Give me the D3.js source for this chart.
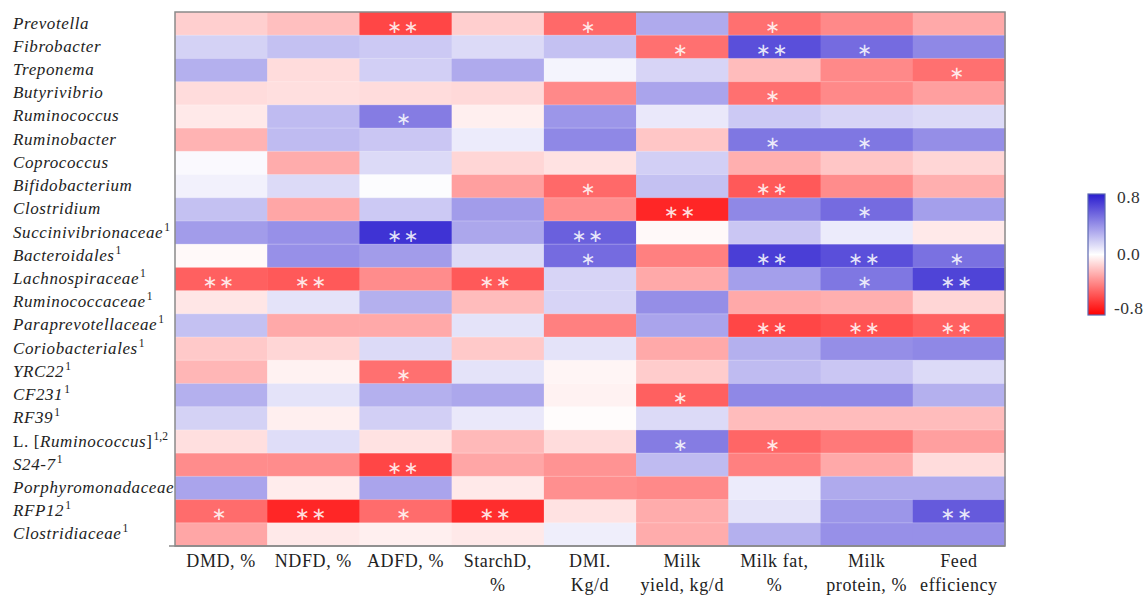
<!DOCTYPE html>
<html>
<head>
<meta charset="utf-8">
<script src="https://cdn.jsdelivr.net/npm/d3@7"></script>
<style>
  html, body { margin: 0; padding: 0; background: #fff; }
  svg { display: block; }
  .rowlab { font-family: "Liberation Serif", "Times New Roman", serif; font-size: 17px; letter-spacing: 0.6px; fill: #222; }
  .rowlab .it { font-style: italic; }
  .rowlab .sup { font-size: 11.5px; letter-spacing: 0; }
  .collab { font-family: "Liberation Serif", "Times New Roman", serif; font-size: 18px; letter-spacing: 0.6px; fill: #222; }
  .leglab { font-family: "Liberation Serif", "Times New Roman", serif; font-size: 17.5px; letter-spacing: 0.4px; fill: #333; }
  .star { font-family: "DejaVu Sans", sans-serif; font-size: 18px; fill: #ffffff; fill-opacity: 0.85; }
</style>
</head>
<body>
<svg id="chart" width="1145" height="597"></svg>
<script>
// Bacterial taxa (rows) and their superscript notes
const taxa = ["Prevotella", "Fibrobacter", "Treponema", "Butyrivibrio", "Ruminococcus",
  "Ruminobacter", "Coprococcus", "Bifidobacterium", "Clostridium", "Succinivibrionaceae",
  "Bacteroidales", "Lachnospiraceae", "Ruminococcaceae", "Paraprevotellaceae",
  "Coriobacteriales", "YRC22", "CF231", "RF39", "L. [Ruminococcus]", "S24-7",
  "Porphyromonadaceae", "RFP12", "Clostridiaceae"];
const taxaNotes = ["", "", "", "", "", "", "", "", "", "1", "1", "1", "1", "1", "1", "1",
  "1", "1", "1,2", "1", "", "1", "1"];

// Measured traits (columns), split over label lines
const traits = ["DMD", "NDFD", "ADFD", "StarchD", "DMI", "MilkYield", "MilkFat", "MilkProtein", "FeedEff"];
const traitLabels = [["DMD, %"], ["NDFD, %"], ["ADFD, %"], ["StarchD,", "%"], ["DMI.", "Kg/d"],
  ["Milk", "yield, kg/d"], ["Milk fat,", "%"], ["Milk", "protein, %"], ["Feed", "efficiency"]];

// Correlation coefficients, one row per taxon, in trait order
const correlations = [
  [-0.15, -0.20, -0.58, -0.15, -0.47,  0.30, -0.45, -0.37, -0.27],
  [ 0.16,  0.22,  0.19,  0.13,  0.22, -0.45,  0.62,  0.52,  0.42],
  [ 0.28, -0.11,  0.17,  0.30,  0.04,  0.15, -0.21, -0.37, -0.45],
  [-0.11, -0.10, -0.11, -0.12, -0.37,  0.32, -0.45, -0.37, -0.30],
  [-0.07,  0.24,  0.46, -0.05,  0.37,  0.08,  0.19,  0.15,  0.13],
  [-0.24,  0.24,  0.20,  0.07,  0.42, -0.18,  0.48,  0.48,  0.40],
  [ 0.02, -0.26,  0.13, -0.13, -0.09,  0.17, -0.25, -0.18, -0.13],
  [ 0.05,  0.13,  0.01, -0.30, -0.47,  0.22, -0.52, -0.36, -0.25],
  [ 0.22, -0.28,  0.19,  0.35, -0.35, -0.68,  0.42,  0.52,  0.34],
  [ 0.35,  0.39,  0.72,  0.31,  0.56, -0.02,  0.20,  0.07, -0.07],
  [-0.02,  0.39,  0.35,  0.13,  0.52, -0.40,  0.68,  0.62,  0.50],
  [-0.50, -0.52, -0.36, -0.52,  0.15, -0.27,  0.34,  0.48,  0.66],
  [-0.08,  0.10,  0.28, -0.21,  0.15,  0.40, -0.27, -0.25, -0.13],
  [ 0.22, -0.27, -0.27,  0.10, -0.40,  0.32, -0.58, -0.55, -0.50],
  [-0.17, -0.13,  0.13, -0.17,  0.10, -0.27,  0.28,  0.40,  0.42],
  [-0.23, -0.04, -0.45,  0.10, -0.03, -0.16,  0.24,  0.20,  0.13],
  [ 0.28,  0.10,  0.28,  0.31, -0.04, -0.50,  0.42,  0.42,  0.28],
  [ 0.16, -0.05,  0.17,  0.08, -0.01,  0.13, -0.21, -0.21, -0.21],
  [-0.10,  0.12, -0.09, -0.22, -0.11,  0.46, -0.48, -0.42, -0.30],
  [-0.36, -0.36, -0.58, -0.28, -0.34,  0.24, -0.40, -0.27, -0.11],
  [ 0.32, -0.06,  0.32, -0.07, -0.35, -0.37,  0.07,  0.30,  0.30],
  [-0.46, -0.68, -0.46, -0.66, -0.09, -0.26,  0.10,  0.37,  0.58],
  [-0.28, -0.07, -0.05, -0.07,  0.06, -0.26,  0.28,  0.39,  0.39]
];

// Significance marks (* P < 0.05, ** P < 0.01)
const significance = [
  ["", "", "**", "", "*", "", "*", "", ""],
  ["", "", "", "", "", "*", "**", "*", ""],
  ["", "", "", "", "", "", "", "", "*"],
  ["", "", "", "", "", "", "*", "", ""],
  ["", "", "*", "", "", "", "", "", ""],
  ["", "", "", "", "", "", "*", "*", ""],
  ["", "", "", "", "", "", "", "", ""],
  ["", "", "", "", "*", "", "**", "", ""],
  ["", "", "", "", "", "**", "", "*", ""],
  ["", "", "**", "", "**", "", "", "", ""],
  ["", "", "", "", "*", "", "**", "**", "*"],
  ["**", "**", "", "**", "", "", "", "*", "**"],
  ["", "", "", "", "", "", "", "", ""],
  ["", "", "", "", "", "", "**", "**", "**"],
  ["", "", "", "", "", "", "", "", ""],
  ["", "", "*", "", "", "", "", "", ""],
  ["", "", "", "", "", "*", "", "", ""],
  ["", "", "", "", "", "", "", "", ""],
  ["", "", "", "", "", "*", "*", "", ""],
  ["", "", "**", "", "", "", "", "", ""],
  ["", "", "", "", "", "", "", "", ""],
  ["*", "**", "*", "**", "", "", "", "", "**"],
  ["", "", "", "", "", "", "", "", ""]
];

// Colour bar ticks
const legendTicks = [0.8, 0.0, -0.8];

const svg = d3.select("#chart");
const plot = { left: 175, right: 1005, top: 12, bottom: 546 };

const x = d3.scaleBand().domain(traits).range([plot.left, plot.right]).padding(0);
const y = d3.scaleBand().domain(taxa).range([plot.top, plot.bottom]).padding(0);
const color = d3.scaleLinear()
  .domain([-0.8, 0, 0.8])
  .range(["#ff0000", "#ffffff", "#2a1ccf"])
  .interpolate(d3.interpolateRgb)
  .clamp(true);

const cells = [];
taxa.forEach((t, i) => traits.forEach((c, j) => {
  cells.push({ taxon: t, trait: c, value: correlations[i][j], sig: significance[i][j] });
}));

// Heatmap cells
svg.append("g").selectAll("rect").data(cells).join("rect")
  .attr("x", d => x(d.trait))
  .attr("y", d => y(d.taxon))
  .attr("width", x.bandwidth() + 0.5)
  .attr("height", y.bandwidth() + 0.5)
  .attr("fill", d => color(d.value));

// Faint row separators
svg.append("g").selectAll("line").data(taxa.slice(1)).join("line")
  .attr("x1", plot.left).attr("x2", plot.right)
  .attr("y1", d => y(d)).attr("y2", d => y(d))
  .attr("stroke", "rgba(255,255,255,0.25)").attr("stroke-width", 1);

// Significance asterisks
svg.append("g").selectAll("text").data(cells.filter(d => d.sig)).join("text")
  .attr("class", "star")
  .attr("x", d => x(d.trait) + x.bandwidth() / 2 - 2)
  .attr("y", d => y(d.taxon) + y.bandwidth() / 2 + 9)
  .attr("text-anchor", "middle")
  .attr("letter-spacing", d => d.sig.length > 1 ? "1.5px" : "0")
  .text(d => d.sig.replace(/\*/g, "\u2217"));

// Plot frame
svg.append("rect")
  .attr("x", plot.left).attr("y", plot.top)
  .attr("width", plot.right - plot.left).attr("height", plot.bottom - plot.top)
  .attr("fill", "none").attr("stroke", "#8a8a8a").attr("stroke-width", 1.5);

// Bottom axis with multi-line trait labels
const xAxis = svg.append("g")
  .attr("transform", `translate(0,${plot.bottom})`)
  .call(d3.axisBottom(x).tickSize(0).tickFormat(""));
xAxis.select(".domain").attr("stroke", "#8a8a8a").attr("stroke-width", 1.5)
  .attr("d", `M${plot.left - 6},0H${plot.right}`);
xAxis.selectAll(".tick").each(function (d, i) {
  const t = d3.select(this).append("text")
    .attr("class", "collab")
    .attr("text-anchor", "middle")
    .attr("y", 21);
  traitLabels[i].forEach((line, k) => {
    t.append("tspan").attr("x", 0).attr("dy", k === 0 ? 0 : 24).text(line);
  });
});

// Left axis: taxa names, left aligned; genus names in italics
const yAxis = svg.append("g")
  .attr("transform", `translate(${plot.left},0)`)
  .call(d3.axisLeft(y).tickSize(0).tickFormat(""));
yAxis.select(".domain").remove();
yAxis.selectAll(".tick").each(function (d, i) {
  const t = d3.select(this).append("text")
    .attr("class", "rowlab")
    .attr("x", 13 - plot.left)
    .attr("y", 5)
    .attr("text-anchor", "start");
  const m = d.match(/^(L\. \[)(.*)(\])$/);
  if (m) {
    t.append("tspan").text(m[1]);
    t.append("tspan").attr("class", "it").text(m[2]);
    t.append("tspan").text(m[3]);
  } else {
    t.append("tspan").attr("class", "it").text(d);
  }
  if (taxaNotes[i]) {
    t.append("tspan").attr("class", "sup").attr("dy", -7).attr("dx", 1).text(taxaNotes[i]);
  }
});

// Colour bar legend
const leg = { x: 1088, y: 194, w: 17, h: 121 };
const defs = svg.append("defs");
const grad = defs.append("linearGradient").attr("id", "legGrad")
  .attr("x1", 0).attr("y1", 0).attr("x2", 0).attr("y2", 1);
const legScale = d3.scaleLinear().domain([0.8, -0.8]).range([leg.y, leg.y + leg.h]);
d3.range(0, 21).forEach(k => {
  const v = 0.8 - k * 0.08;
  grad.append("stop").attr("offset", (k / 20 * 100) + "%").attr("stop-color", color(v));
});
svg.append("rect")
  .attr("x", leg.x).attr("y", leg.y).attr("width", leg.w).attr("height", leg.h)
  .attr("fill", "url(#legGrad)").attr("stroke", "#5a68b0").attr("stroke-width", 1.2);
svg.append("g").selectAll("text").data(legendTicks).join("text")
  .attr("class", "leglab")
  .attr("x", d => d < 0 ? 1114 : 1117)
  .attr("y", d => legScale(d) + (d > 0 ? 9 : d < 0 ? -1 : 5))
  .text(d => d.toFixed(1));
</script>
</body>
</html>
